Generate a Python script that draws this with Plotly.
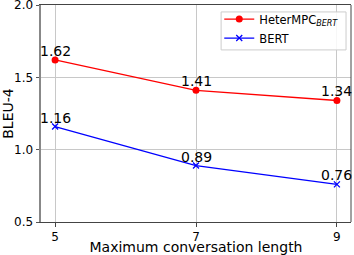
import plotly.graph_objects as go

lengths = [5, 7, 9]
heter_vals = [1.62, 1.41, 1.34]
bert_vals = [1.16, 0.89, 0.76]
heter_name = "HeterMPC<sub><i>BERT</i></sub>"
bert_name = "BERT"
x_ticks = [5, 7, 9]
y_ticks = [0.5, 1.0, 1.5, 2.0]

font_family = "DejaVu Sans"

fig = go.Figure()
fig.add_trace(go.Scatter(
    x=lengths, y=heter_vals, name=heter_name,
    mode="lines+markers",
    line=dict(color="#ff0000", width=1.3),
    marker=dict(symbol="circle", size=7, color="#ff0000"),
    cliponaxis=False,
))
fig.add_trace(go.Scatter(
    x=lengths, y=bert_vals, name=bert_name,
    mode="lines+markers",
    line=dict(color="#0000ff", width=1.3),
    marker=dict(symbol="x-thin", size=6, color="#0000ff", line=dict(color="#0000ff", width=1.3)),
    cliponaxis=False,
))

# value labels
for xs, ys in ((lengths, heter_vals), (lengths, bert_vals)):
    for xv, yv in zip(xs, ys):
        fig.add_annotation(
            x=xv, y=yv, text=f"{yv:.2f}", showarrow=False,
            xanchor="center", yanchor="bottom", yshift=-1,
            font=dict(size=14, color="black", family=font_family),
        )

# right spine (dark) and legend frame
fig.add_shape(
    type="line", xref="paper", yref="paper", x0=1, x1=1, y0=0, y1=1,
    line=dict(color="#444444", width=1), layer="above",
)
fig.add_shape(
    type="rect", xref="paper", yref="paper",
    x0=0.581, x1=0.984, y0=0.793, y1=0.968,
    line=dict(color="#cccccc", width=1), fillcolor="rgba(255,255,255,0.85)",
    layer="above",
)

fig.update_layout(
    width=354, height=255,
    margin=dict(l=41, r=3, t=5, b=33, autoexpand=False),
    paper_bgcolor="white", plot_bgcolor="white",
    font=dict(family=font_family, size=12, color="black"),
    showlegend=True,
    legend=dict(
        x=0.575, y=1.002, xanchor="left", yanchor="top",
        bgcolor="rgba(0,0,0,0)", borderwidth=0,
        font=dict(size=11.5, family=font_family),
        tracegroupgap=0, itemwidth=30,
    ),
    xaxis=dict(
        range=[4.8, 9.2], tickvals=x_ticks, ticktext=[str(t) for t in x_ticks],
        showgrid=True, gridcolor="#c8c8c8", gridwidth=1,
        showline=True, linecolor="#444444", linewidth=1, mirror=True,
        ticks="outside", ticklen=3.5, tickcolor="#444444",
        title=dict(text="Maximum conversation length", font=dict(size=14), standoff=3),
        tickfont=dict(size=12), zeroline=False, automargin=False,
        ticklabeloverflow="allow",
    ),
    yaxis=dict(
        range=[0.5, 2.0], tickvals=y_ticks, ticktext=[f"{t:.1f}" for t in y_ticks],
        showgrid=True, gridcolor="#c8c8c8", gridwidth=1,
        showline=True, linecolor="#888888", linewidth=2, mirror=False,
        ticks="outside", ticklen=3.5, tickcolor="#555555",
        title=dict(text="BLEU-4", font=dict(size=14), standoff=5),
        tickfont=dict(size=12), zeroline=False, automargin=False,
        ticklabeloverflow="allow",
    ),
)

fig.write_html(
    "out.html",
    config={"displayModeBar": False},
    post_script="document.body.style.margin='0';document.body.style.overflow='hidden';",
)
